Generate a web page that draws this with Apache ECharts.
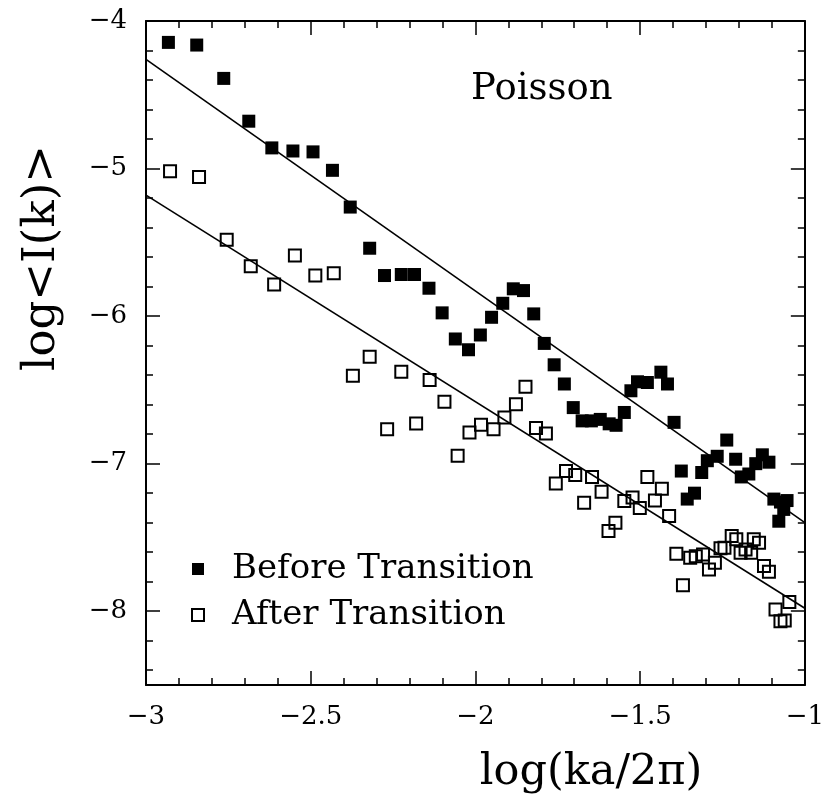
<!DOCTYPE html>
<html>
<head>
<meta charset="utf-8">
<script src="https://cdn.jsdelivr.net/npm/echarts@6/dist/echarts.min.js"></script>
<style>
  html, body { margin: 0; padding: 0; background: #fff; }
  #chart { width: 827px; height: 803px; }
</style>
</head>
<body>
<div id="chart"></div>
<script>
// [log(ka/2pi), log<I(k)>]
const beforeTransition = [
  [-2.932, -4.145], [-2.846, -4.163], [-2.764, -4.389], [-2.688, -4.679],
  [-2.618, -4.860], [-2.554, -4.881], [-2.493, -4.887], [-2.434, -5.012],
  [-2.380, -5.261], [-2.321, -5.540], [-2.276, -5.725], [-2.225, -5.718],
  [-2.185, -5.718], [-2.141, -5.811], [-2.101, -5.978], [-2.061, -6.155],
  [-2.021, -6.228], [-1.985, -6.128], [-1.951, -6.008], [-1.917, -5.913],
  [-1.885, -5.815], [-1.854, -5.827], [-1.823, -5.985], [-1.791, -6.185],
  [-1.761, -6.330], [-1.730, -6.460], [-1.703, -6.620], [-1.676, -6.710],
  [-1.648, -6.710], [-1.621, -6.700], [-1.594, -6.730], [-1.573, -6.740],
  [-1.548, -6.653], [-1.528, -6.506], [-1.508, -6.445], [-1.478, -6.450],
  [-1.437, -6.380], [-1.417, -6.460], [-1.397, -6.720], [-1.375, -7.050],
  [-1.357, -7.240], [-1.335, -7.200], [-1.313, -7.060], [-1.296, -6.980],
  [-1.266, -6.950], [-1.237, -6.840], [-1.210, -6.970], [-1.193, -7.090],
  [-1.170, -7.070], [-1.149, -7.000], [-1.129, -6.940], [-1.109, -6.990],
  [-1.094, -7.240], [-1.074, -7.260], [-1.054, -7.250], [-1.079, -7.390],
  [-1.064, -7.310]
];

const afterTransition = [
  [-2.927, -5.019], [-2.839, -5.057], [-2.755, -5.483], [-2.682, -5.662],
  [-2.611, -5.786], [-2.548, -5.589], [-2.486, -5.725], [-2.430, -5.709],
  [-2.372, -6.404], [-2.321, -6.275], [-2.268, -6.766], [-2.225, -6.377],
  [-2.180, -6.728], [-2.139, -6.433], [-2.094, -6.580], [-2.054, -6.947],
  [-2.018, -6.789], [-1.983, -6.737], [-1.945, -6.766], [-1.912, -6.687],
  [-1.877, -6.597], [-1.848, -6.479], [-1.816, -6.759], [-1.786, -6.796],
  [-1.756, -7.135], [-1.725, -7.049], [-1.697, -7.076], [-1.670, -7.265],
  [-1.646, -7.090], [-1.617, -7.190], [-1.596, -7.457], [-1.575, -7.400],
  [-1.548, -7.253], [-1.523, -7.230], [-1.501, -7.300], [-1.478, -7.090],
  [-1.455, -7.249], [-1.434, -7.170], [-1.412, -7.355], [-1.390, -7.610],
  [-1.370, -7.824], [-1.348, -7.638], [-1.331, -7.627], [-1.309, -7.615],
  [-1.291, -7.717], [-1.273, -7.672], [-1.256, -7.574], [-1.244, -7.570],
  [-1.222, -7.490], [-1.208, -7.513], [-1.195, -7.604], [-1.180, -7.581],
  [-1.163, -7.604], [-1.155, -7.513], [-1.139, -7.536], [-1.124, -7.694],
  [-1.109, -7.733], [-1.089, -7.989], [-1.074, -8.068], [-1.061, -8.063],
  [-1.047, -7.937]
];

// straight-line fits, given by their end points
const beforeFit = [[-3, -4.26], [-1, -7.40]];
const afterFit = [[-3, -5.18], [-1, -7.98]];

const yMajorTicks = [-8, -7, -6, -5, -4];
const yMinorTicks = [
  -8.4, -8.2, -7.8, -7.6, -7.4, -7.2, -6.8, -6.6, -6.4, -6.2,
  -5.8, -5.6, -5.4, -5.2, -4.8, -4.6, -4.4, -4.2
];

const FONT = 'DejaVu Serif';
const minus = v => String(v).replace('-', '\u2212');

const chart = echarts.init(document.getElementById('chart'));

const xBase = {
  type: 'value', min: -3, max: -1, interval: 0.5,
  axisLine: { show: true, onZero: false, lineStyle: { color: '#000', width: 2 } },
  axisTick: { inside: true, length: 14, lineStyle: { color: '#000', width: 1.5 } },
  minorTick: { show: true, splitNumber: 5, length: 7, lineStyle: { color: '#000', width: 1.5 } },
  splitLine: { show: false }
};

const yBase = {
  type: 'value', min: -8.5, max: -4,
  splitLine: { show: false },
  axisLine: { show: false, onZero: false, lineStyle: { color: '#000', width: 2 } }
};

const tickStyle = { color: '#000', width: 1.5 };

chart.setOption({
  animation: false,
  backgroundColor: '#fff',
  grid: { left: 146, right: 21, top: 21, bottom: 118 },
  title: {
    text: 'Poisson',
    left: 466, top: 66,
    textStyle: { fontFamily: FONT, fontSize: 37, fontWeight: 'normal', color: '#000' }
  },
  legend: {
    data: ['Before Transition', 'After Transition'],
    orient: 'vertical',
    left: 186, top: 546,
    itemWidth: 12, itemHeight: 12, itemGap: 10,
    textStyle: {
      fontFamily: FONT, fontSize: 34, color: '#000',
      lineHeight: 36, padding: [0, 0, 0, 23]
    }
  },
  xAxis: [
    Object.assign({}, xBase, {
      position: 'bottom',
      axisLabel: {
        margin: 19, formatter: minus,
        fontFamily: FONT, fontSize: 26, color: '#000'
      }
    }),
    Object.assign({}, xBase, { position: 'top', axisLabel: { show: false } })
  ],
  yAxis: [
    Object.assign({}, yBase, {
      position: 'left',
      axisLine: { show: true, onZero: false, lineStyle: { color: '#000', width: 2 } },
      axisTick: { inside: true, length: 14, customValues: yMajorTicks, lineStyle: tickStyle },
      axisLabel: {
        customValues: yMajorTicks, margin: 19, formatter: minus,
        fontFamily: FONT, fontSize: 26, color: '#000'
      }
    }),
    Object.assign({}, yBase, {
      position: 'left',
      axisTick: { inside: true, length: 7, customValues: yMinorTicks, lineStyle: tickStyle },
      axisLabel: { show: false }
    }),
    Object.assign({}, yBase, {
      position: 'right',
      axisLine: { show: true, onZero: false, lineStyle: { color: '#000', width: 2 } },
      axisTick: { inside: true, length: 14, customValues: yMajorTicks, lineStyle: tickStyle },
      axisLabel: { show: false }
    }),
    Object.assign({}, yBase, {
      position: 'right',
      axisTick: { inside: true, length: 7, customValues: yMinorTicks, lineStyle: tickStyle },
      axisLabel: { show: false }
    })
  ],
  graphic: [
    {
      type: 'text', x: 42, y: 258, rotation: Math.PI / 2,
      style: {
        text: 'log<I(k)>', fontFamily: FONT, fontSize: 45, fill: '#000',
        align: 'center', verticalAlign: 'middle'
      }
    },
    {
      type: 'text', x: 591, y: 773,
      style: {
        text: 'log(ka/2\u03c0)', fontFamily: FONT, fontSize: 43, fill: '#000',
        align: 'center', verticalAlign: 'middle'
      }
    }
  ],
  series: [
    {
      name: 'Before fit', type: 'line', data: beforeFit,
      showSymbol: false, silent: true,
      lineStyle: { color: '#000', width: 1.6 }
    },
    {
      name: 'After fit', type: 'line', data: afterFit,
      showSymbol: false, silent: true,
      lineStyle: { color: '#000', width: 1.6 }
    },
    {
      name: 'Before Transition', type: 'scatter', data: beforeTransition,
      symbol: 'rect', symbolSize: 13,
      itemStyle: { color: '#000', opacity: 1 }
    },
    {
      name: 'After Transition', type: 'scatter', data: afterTransition,
      symbol: 'rect', symbolSize: 12,
      itemStyle: { color: 'rgba(255,255,255,0)', borderColor: '#000', borderWidth: 2, opacity: 1 }
    }
  ]
});
</script>
</body>
</html>
